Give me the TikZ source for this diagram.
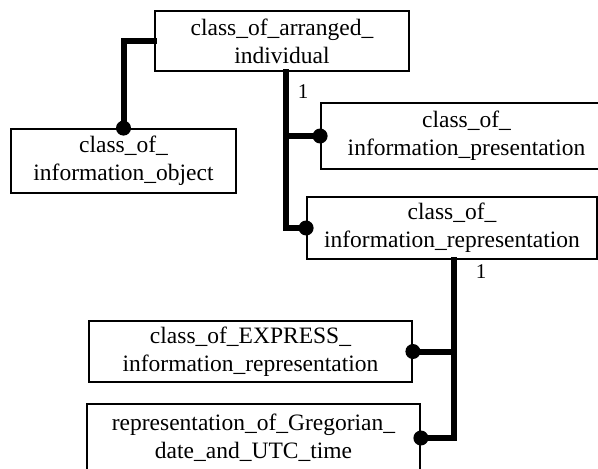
\documentclass[tikz,border=0pt]{standalone}
\usepackage{fontspec}
\setmainfont{Liberation Serif}
\tikzset{
  entity/.style={draw,line width=1.8pt,rectangle,inner sep=0pt,align=center,
    font=\fontsize{23.5pt}{28pt}\selectfont},
  link/.style={line width=6pt,line cap=rect},
  dot/.style={circle,fill,inner sep=0pt,minimum size=15pt}
}
\begin{document}
\begin{tikzpicture}[x=1pt,y=-1pt]
\clip (0,0) rectangle (598,469);
\fill[white] (0,0) rectangle (598,469);
% entities
\node[entity,minimum width=254pt,minimum height=60pt] (arranged) at (282,41) {class\_of\_arranged\_\\individual};
\node[entity,minimum width=225pt,minimum height=64pt] (infoobj) at (123.5,161) {class\_of\_\\information\_object};
\node[entity,minimum width=291pt,minimum height=66pt] (presentation) at (466.5,136) {class\_of\_\\information\_presentation};
\node[entity,minimum width=290pt,minimum height=62pt] (representation) at (452,228) {class\_of\_\\information\_representation};
\node[entity,minimum width=323pt,minimum height=61pt] (express) at (250.5,351.5) {class\_of\_EXPRESS\_\\information\_representation};
\node[entity,minimum width=333pt,minimum height=68pt] (gregorian) at (253.5,438) {representation\_of\_Gregorian\_\\date\_and\_UTC\_time};
% cardinalities
\node[font=\fontsize{21pt}{24pt}\selectfont] (card1) at (303,92) {1};
\node[font=\fontsize{21pt}{24pt}\selectfont] (card2) at (481,272) {1};
% links
\draw[link] (arranged.west) -| (infoobj.north);
\node[dot] at (infoobj.north) {};
\draw[link] ([xshift=4pt]arranged.south) |- (representation.west);
\draw[link] ([xshift=4pt]arranged.south |- presentation.west) -- (presentation.west);
\node[dot] at (presentation.west) {};
\node[dot] at (representation.west) {};
\draw[link] ([xshift=2pt]representation.south) |- (gregorian.east);
\draw[link] ([xshift=2pt]representation.south |- express.east) -- (express.east);
\node[dot] at (express.east) {};
\node[dot] at (gregorian.east) {};
\end{tikzpicture}
\end{document}
